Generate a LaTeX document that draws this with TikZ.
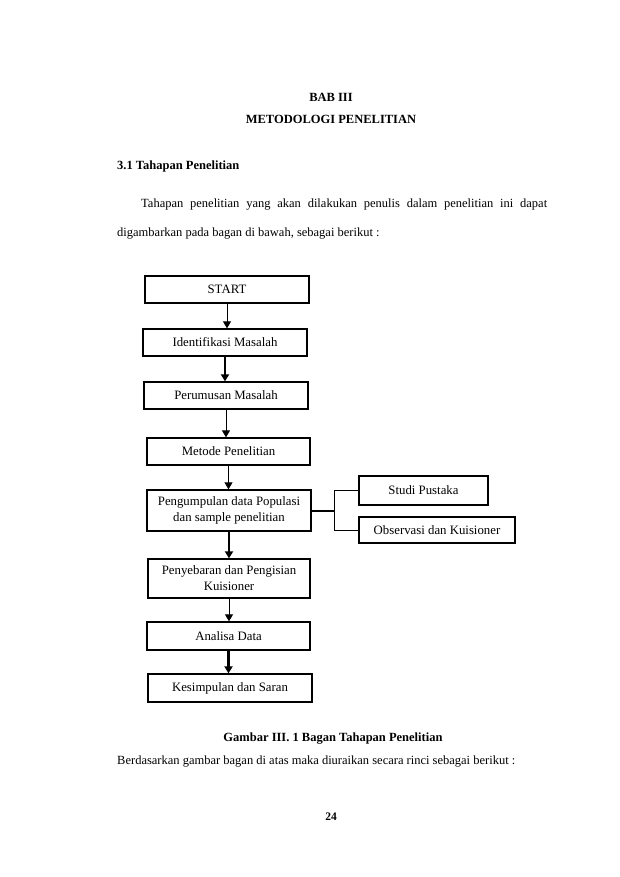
\documentclass[tikz,border=0pt]{standalone}
\usepackage{fontspec}
\setmainfont{Liberation Serif}
\usetikzlibrary{arrows.meta}
\begin{document}
\begin{tikzpicture}[x=1pt,y=-1pt,
  box/.style={draw,line width=1.3pt,inner sep=0pt,align=center,
    font=\fontsize{12.8}{16}\selectfont},
  thinc/.style={line width=0.9pt},
  thickc/.style={line width=2.4pt},
  arr/.style={-{Triangle[width=8pt,length=7pt]}},
  body/.style={inner sep=0pt,font=\fontsize{12.5}{15}\selectfont},
  bodyb/.style={inner sep=0pt,font=\fontsize{12.5}{15}\selectfont\bfseries}]
\useasboundingbox[fill=white] (0,0) rectangle (620,877);
% headings
\node[bodyb] (bab) at (331,97) {BAB III};
\node[bodyb] (metod) at (331,119) {METODOLOGI PENELITIAN};
\node[bodyb,anchor=west] (sub) at (117,166) {3.1 Tahapan Penelitian};
\node[body,anchor=west] (p1) at (141,205) {\makebox[406pt][s]{Tahapan penelitian yang akan dilakukan penulis dalam penelitian ini dapat}};
\node[body,anchor=west] (p2) at (117,234) {digambarkan pada bagan di bawah, sebagai berikut :};
% boxes
\node[box,minimum width=164pt,minimum height=27pt] (start) at (227,289.5) {START};
\node[box,minimum width=164pt,minimum height=27pt] (ident) at (225,342.5) {Identifikasi Masalah};
\node[box,minimum width=164pt,minimum height=27pt] (perum) at (226,395.5) {Perumusan Masalah};
\node[box,minimum width=163pt,minimum height=27pt] (metode) at (228.5,451.5) {Metode Penelitian};
\node[box,minimum width=164pt,minimum height=41pt] (pengum) at (229,510.5) {Pengumpulan data Populasi\\dan sample penelitian};
\node[box,minimum width=129pt,minimum height=29pt] (studi) at (423.5,490.5) {Studi Pustaka};
\node[box,minimum width=156pt,minimum height=26pt] (obs) at (437,530) {Observasi dan Kuisioner};
\node[box,minimum width=162pt,minimum height=39pt] (penyeb) at (229,578.5) {Penyebaran dan Pengisian\\Kuisioner};
\node[box,minimum width=163pt,minimum height=28pt] (analisa) at (228.5,636) {Analisa Data};
\node[box,minimum width=164pt,minimum height=28pt] (kesimp) at (230,688) {Kesimpulan dan Saran};
% connectors
\draw[thinc,arr] (start.south) -- (start.south |- ident.north);
\draw[thickc,arr] (ident.south) -- (ident.south |- perum.north);
\draw[thinc,arr] (perum.south) -- (perum.south |- metode.north);
\draw[thinc,arr] (metode.south) -- (metode.south |- pengum.north);
\draw[thickc,arr] (pengum.south) -- (pengum.south |- penyeb.north);
\draw[thinc,arr] (penyeb.south) -- (penyeb.south |- analisa.north);
\draw[thickc,arr] (analisa.south) -- (analisa.south |- kesimp.north);
\coordinate (j) at (334,511);
\draw[thickc] (pengum.east |- j) -- (j);
\draw[thinc] (studi.west) -- (studi.west -| j) -- (obs.west -| j) -- (obs.west);
% caption and text
\node[bodyb] (cap) at (333,739) {Gambar III. 1 Bagan Tahapan Penelitian};
\node[body,anchor=west] (p3) at (117,762) {Berdasarkan gambar bagan di atas maka diuraikan secara rinci sebagai berikut :};
\node[bodyb,font=\fontsize{11.5}{13}\selectfont\bfseries] (pg) at (331,817) {24};
\end{tikzpicture}
\end{document}
